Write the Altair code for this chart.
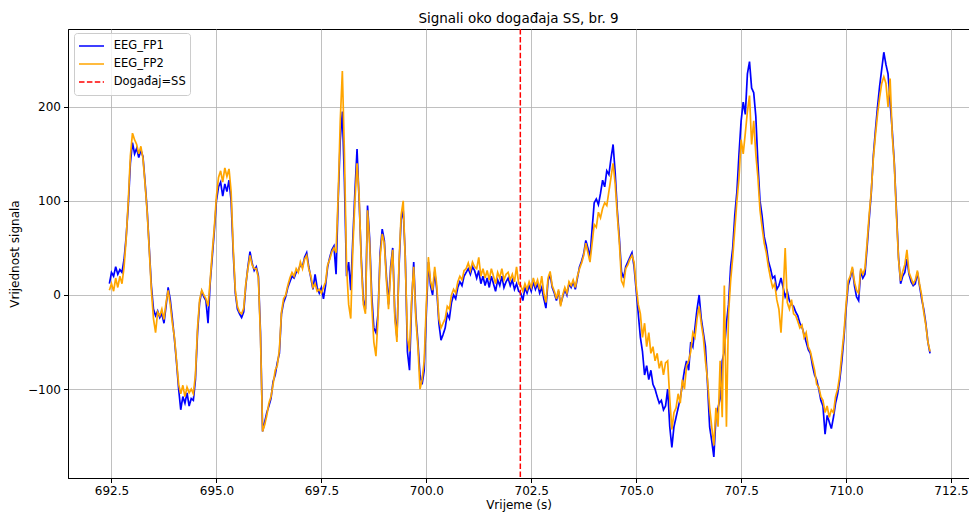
import altair as alt
import numpy as np
import pandas as pd

# sampling grid of the traced signals (seconds)
T_START = 692.45
DT = 0.05

# EEG_FP1 (blue), values, 10 samples (0.5 s) per row
fp1 = [
    12, 24, 20, 30, 22, 27, 24, 38, 62, 95,
    140, 162, 150, 156, 146, 154, 147, 120, 90, 50,
    10, -15, -22, -17, -24, -20, -30, -12, 8, -5,
    -25, -47, -72, -100, -122, -108, -115, -104, -118, -110,
    -112, -90, -40, -8, 4, -2, -6, -30, 12, 40,
    68, 100, 115, 120, 105, 118, 110, 122, 100, 45,
    2, -15, -20, -24, -18, 10, 30, 46, 34, 26,
    30, 20, -40, -145, -135, -125, -118, -110, -92, -85,
    -72, -62, -20, -8, -2, 8, 14, 20, 18, 24,
    26, 32, 30, 40, 45, 30, 18, 6, 22, 8,
    2, 8, -4, 10, 30, 40, 48, 52, 22, 100,
    165, 195, 120, 20, 35, 5, 60, 110, 155, 100,
    40, -5, -15, 95, 60, 0, -35, -40, -20, 45,
    70, 58, 20, -10, 30, 50, -20, -45, 30, 80,
    90, 40, -60, -80, -10, 35, -20, -50, -85, -95,
    -80, -20, 35, 10, 0, 25, 5, -30, -48, -42,
    -35, -20, -25, -8, 0, -4, 8, 14, 10, 20,
    24, 28, 22, 30, 26, 18, 26, 12, 20, 10,
    18, 8, 20, 12, 4, 16, 10, 20, 8, 14,
    18, 10, 16, 6, 12, 4, 2, -6, 8, 2,
    10, 4, 14, 6, 12, 2, 8, -4, -14, 15,
    22, 8, 2, -6, 4, -10, -2, 6, 0, 12,
    8, 14, 6, 18, 30, 36, 44, 58, 50, 40,
    70, 98, 102, 96, 108, 122, 115, 132, 128, 145,
    160, 130, 90, 60, 25, 18, 30, 35, 40, 45,
    30, 5, -20, -45, -60, -85, -75, -90, -80, -95,
    -100, -108, -115, -112, -122, -118, -100, -140, -162, -140,
    -130, -120, -110, -95, -80, -70, -80, -50, -55, -35,
    -15, 0, -25, -40, -55, -95, -140, -155, -172, -130,
    -120, -110, -70, -60, -30, -10, 30, 50, 85, 110,
    150, 185, 205, 192, 235, 248, 220, 215, 190, 140,
    100, 84, 62, 52, 36, 28, 18, 20, 6, 10,
    18, 8, -2, 4, -6, -10, -12, -18, -22, -30,
    -34, -42, -50, -58, -62, -75, -85, -90, -100, -112,
    -118, -148, -128, -135, -142, -130, -115, -105, -90, -70,
    -45, -15, 10, 18, 28, 10, -2, -6, 26, 18,
    22, 50, 80, 108, 148, 175, 200, 222, 240, 258,
    245, 235, 205, 175, 140, 90, 40, 12, 20, 24,
    38, 22, 14, 10, 12, 24, 10, -4, -15, -30,
    -50, -62,
]

# EEG_FP2 (orange)
fp2 = [
    5, 12, 4, 18, 8, 20, 12, 30, 60, 100,
    148, 172, 165, 160, 150, 158, 145, 118, 88, 48,
    5, -25, -40, -18, -22, -15, -26, -8, 5, -10,
    -30, -45, -70, -95, -105, -96, -108, -98, -104, -100,
    -105, -85, -35, -5, 5, 0, -4, -12, 15, 45,
    72, 105, 125, 132, 120, 135, 126, 134, 110, 50,
    5, -12, -18, -20, -14, 12, 28, 42, 32, 28,
    28, 18, -45, -145, -138, -128, -115, -108, -95, -80,
    -75, -58, -18, -4, 0, 10, 18, 24, 20, 28,
    24, 35, 28, 38, 42, 28, 20, 8, 12, 4,
    6, 2, 8, 14, 32, 38, 46, 50, 45, 105,
    185, 238, 150, 30, -10, -25, 50, 100, 140, 105,
    35, -10, -20, 90, 55, -10, -50, -65, -25, 40,
    65, 55, 15, -15, 25, 48, -25, -50, 35, 85,
    100, 35, -45, -60, -5, 30, -25, -55, -100, -90,
    -70, -10, 40, 15, 5, 30, 10, -25, -35, -30,
    -25, -12, -15, 0, 6, 2, 14, 20, 16, 26,
    28, 34, 26, 35, 30, 28, 40, 20, 28, 18,
    26, 16, 28, 20, 12, 24, 18, 28, 16, 22,
    24, 16, 22, 14, 30, 12, 10, 4, 12, 6,
    14, 8, 18, 10, 16, 6, 20, 2, -8, 18,
    25, 10, 4, -4, 6, -12, 0, 8, 2, 14,
    10, 16, 8, 20, 28, 34, 42, 55, 45, 35,
    55, 75, 72, 88, 82, 92, 98, 95, 110, 125,
    140, 118, 85, 55, 15, 10, 28, 32, 38, 42,
    35, 10, -10, -20, -45, -30, -55, -40, -62, -55,
    -70, -62, -78, -70, -85, -72, -70, -110, -143, -125,
    -120, -105, -115, -90, -100, -75, -70, -60, -40, -45,
    -25, -12, -30, -45, -70, -90, -120, -140, -160, -120,
    -140, -70, -130, 10, -140, -20, 15, 40, 70, 100,
    125, 165, 150, 172, 195, 212, 160, 185, 150, 125,
    90, 72, 55, 45, 30, 18, 8, 12, -5, -15,
    -40, 0, 50, -8, -15, -5, -20, -22, -28, -35,
    -32, -45, -40, -55, -60, -70, -80, -95, -98, -108,
    -112, -125, -118, -130, -122, -125, -108, -100, -85, -62,
    -40, -10, 15, 20, 30, 14, 5, 2, 28, 22,
    28, 55, 85, 110, 145, 170, 192, 210, 225, 232,
    225, 200, 230, 170, 138, 85, 38, 15, 25, 32,
    48, 24, 18, 12, 16, 26, 12, 0, -18, -32,
    -50, -60,
]

event_time = [702.24]
series_names = ["EEG_FP1", "EEG_FP2", "Događaj=SS"]
series_colors = ["#0000ff", "#ffa500", "#ff0000"]
x_ticks = [692.5, 695.0, 697.5, 700.0, 702.5, 705.0, 707.5, 710.0, 712.5]
y_ticks = [-100, 0, 100, 200]

t = np.round(T_START + DT * np.arange(len(fp1)), 3)
df = pd.concat([
    pd.DataFrame({"t": t, "v": fp1, "series": series_names[0]}),
    pd.DataFrame({"t": t, "v": fp2, "series": series_names[1]}),
])
ev = pd.DataFrame({"t": event_time, "series": [series_names[2]]})

leg = alt.Legend(title=None, orient="none", legendX=6, legendY=4)
x_enc = alt.X("t:Q", scale=alt.Scale(domain=[691.464, 712.929], nice=False, zero=False),
              axis=alt.Axis(values=x_ticks, format=".1f", title="Vrijeme (s)",
                            labelPadding=2.5, titlePadding=3.5))
color_enc = alt.Color("series:N", scale=alt.Scale(domain=series_names, range=series_colors), legend=leg)
dash_enc = alt.StrokeDash("series:N",
                          scale=alt.Scale(domain=series_names, range=[[1, 0], [1, 0], [5.5, 2.4]]),
                          legend=leg)

lines = alt.Chart(df).mark_line(strokeWidth=1.7, clip=True).encode(
    x=x_enc,
    y=alt.Y("v:Q", scale=alt.Scale(domain=[-194.5, 282.7], nice=False, zero=False),
            axis=alt.Axis(values=y_ticks, format="d", title="Vrijednost signala",
                          labelPadding=3, titlePadding=6)),
    color=color_enc,
    strokeDash=dash_enc,
)
rule = alt.Chart(ev).mark_rule(strokeWidth=1.5).encode(
    x=x_enc, color=color_enc, strokeDash=dash_enc
)

chart = alt.layer(lines, rule).properties(
    width=901,
    height=449,
    title=alt.TitleParams(text="Signali oko događaja SS, br. 9", fontSize=13.5, fontWeight="normal",
                          anchor="middle", offset=3, frame="group", color="black"),
    autosize=alt.AutoSizeParams(type="none"),
    padding={"left": 60, "top": 21, "right": 0, "bottom": 35},
).configure(font="DejaVu Sans").configure_view(
    stroke="black", strokeWidth=1
).configure_axis(
    gridColor="#b0b0b0", gridWidth=0.8, domainColor="black", domainWidth=1,
    tickColor="black", tickSize=4.5, tickWidth=1, labelColor="black", titleColor="black",
    labelFontSize=12, titleFontSize=12, titleFontWeight="normal",
).configure_legend(
    symbolType="stroke", symbolSize=625, symbolStrokeWidth=1.5, clipHeight=17.8,
    rowPadding=0, padding=4, labelOffset=8.7, labelFontSize=11.5, labelColor="black",
    strokeColor="#cccccc", fillColor="rgba(255,255,255,0.8)", cornerRadius=3, symbolOffset=0,
)

chart.save("out.html", embed_options={"renderer": "svg", "actions": False})
